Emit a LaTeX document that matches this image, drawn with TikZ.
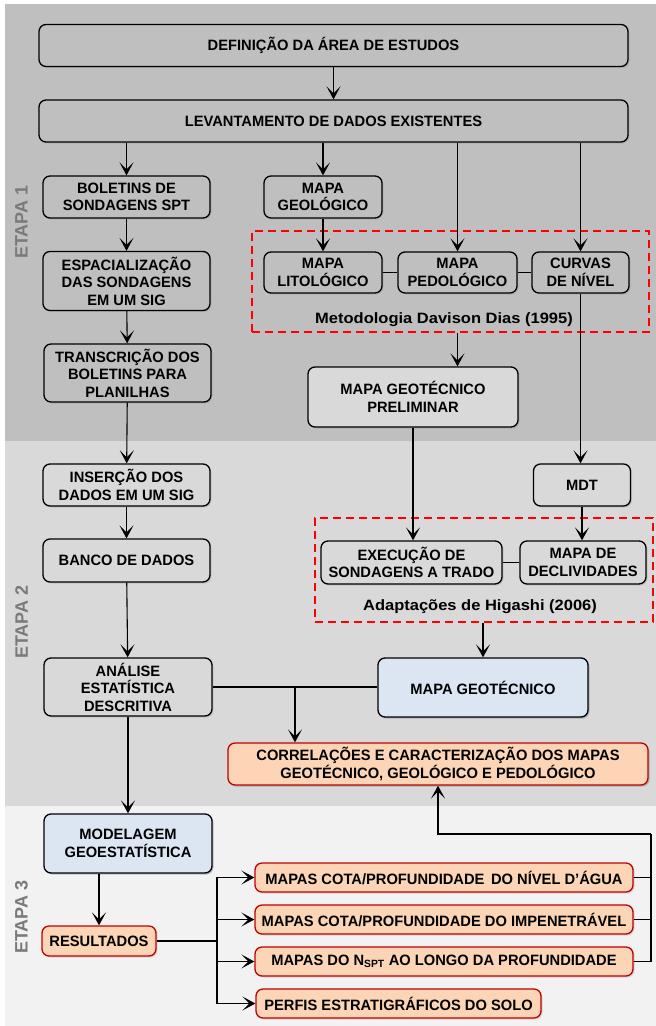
\documentclass[tikz,border=0pt]{standalone}
\usepackage{fontspec}
\setmainfont{Liberation Sans}
\newfontfamily\boxfont[FakeStretch=0.98]{Liberation Sans}
\newfontfamily\notefont[FakeStretch=1.1]{Liberation Sans}
\usetikzlibrary{arrows.meta,shadows,calc}

\definecolor{bandA}{HTML}{BFBFBF}
\definecolor{bandB}{HTML}{D9D9D9}
\definecolor{bandC}{HTML}{F2F2F2}
\definecolor{boxblue}{HTML}{DCE6F2}
\definecolor{boxpeach}{HTML}{FBD5B5}
\definecolor{boxred}{HTML}{C00000}
\definecolor{dashred}{HTML}{FF0000}
\definecolor{etapagray}{HTML}{7A7A7A}

\tikzset{
  box/.style={draw=black, line width=1.3pt, rounded corners=7pt, align=center,
    inner sep=2pt, drop shadow={shadow xshift=1.5pt, shadow yshift=-1.5pt, opacity=0.25}},
  boxA/.style={box, fill=bandA},
  boxB/.style={box, fill=bandB},
  bluebox/.style={box, fill=boxblue},
  peachbox/.style={box, draw=boxred, fill=boxpeach},
  dashbox/.style={draw=dashred, line width=2.2pt, dash pattern=on 8pt off 5pt},
  note/.style={font=\notefont\bfseries\fontsize{15}{17}\selectfont},
  etapa/.style={rotate=90, text=etapagray, font=\bfseries\fontsize{18}{20}\selectfont}
}

\begin{document}
\begin{tikzpicture}[x=1pt, y=-1pt, line width=1.1pt,
    >={Stealth[length=13pt, width=14pt, inset=7pt]},
    font=\boxfont\bfseries\fontsize{15}{17.5}\selectfont]
  \useasboundingbox (0,0) rectangle (656,1026);

  % stage bands
  \fill[bandA] (5,4) rectangle (656,441);
  \fill[bandB] (5,441) rectangle (656,806);
  \fill[bandC] (5,806) rectangle (656,1026);
  \node[etapa] (e1) at (21.5,222) {ETAPA 1};
  \node[etapa] (e2) at (21.5,622) {ETAPA 2};
  \node[etapa] (e3) at (21.5,917) {ETAPA 3};

  % dashed groups
  \node[dashbox, minimum width=397pt, minimum height=101pt] (grp1) at (450.5,281.5) {};
  \node[note] (meto) at (444,320) {Metodologia Davison Dias (1995)};
  \node[dashbox, minimum width=338pt, minimum height=104pt] (grp2) at (484,570) {};
  \node[note] (higa) at (480,607) {Adaptações de Higashi (2006)};

  % etapa 1
  \begin{scope}[every node/.style={boxA}]
    \node[minimum width=589pt, minimum height=42pt] (def) at (333.5,45.5) {DEFINIÇÃO DA ÁREA DE ESTUDOS};
    \node[minimum width=589pt, minimum height=42pt] (lev) at (333.5,121) {LEVANTAMENTO DE DADOS EXISTENTES};
    \node[minimum width=167pt, minimum height=42pt] (bol) at (126.5,197) {BOLETINS DE\\SONDAGENS SPT};
    \node[minimum width=118pt, minimum height=42pt] (geo) at (323,197) {MAPA\\GEOLÓGICO};
    \node[minimum width=167pt, minimum height=59pt] (esp) at (126.5,281) {ESPACIALIZAÇÃO\\DAS SONDAGENS\\EM UM SIG};
    \node[minimum width=118pt, minimum height=41pt] (lito) at (323,272.5) {MAPA\\LITOLÓGICO};
    \node[minimum width=119pt, minimum height=41pt] (pedo) at (457.5,272.5) {MAPA\\PEDOLÓGICO};
    \node[minimum width=97pt, minimum height=41pt] (curv) at (580.5,272.5) {CURVAS\\DE NÍVEL};
    \node[minimum width=167pt, minimum height=58pt] (trans) at (127.5,373) {TRANSCRIÇÃO DOS\\BOLETINS PARA\\PLANILHAS};
    \node[fill=bandB, minimum width=210pt, minimum height=60pt] (prel) at (413,397) {MAPA GEOTÉCNICO\\PRELIMINAR};
  \end{scope}

  % etapa 2
  \begin{scope}[every node/.style={boxB}]
    \node[minimum width=167pt, minimum height=42pt] (ins) at (126.5,485) {INSERÇÃO DOS\\DADOS EM UM SIG};
    \node[minimum width=97pt, minimum height=42pt] (mdt) at (582,485) {MDT};
    \node[minimum width=167pt, minimum height=43pt] (banco) at (126.5,560.5) {BANCO DE DADOS};
    \node[minimum width=181pt, minimum height=43pt] (exec) at (411.5,562.5) {EXECUÇÃO DE\\SONDAGENS A TRADO};
    \node[minimum width=126pt, minimum height=43pt] (decl) at (583,562.5) {MAPA DE\\DECLIVIDADES};
    \node[minimum width=168pt, minimum height=58pt] (anal) at (128,687) {ANÁLISE\\ESTATÍSTICA\\DESCRITIVA};
    \node[bluebox, minimum width=210pt, minimum height=59pt] (mgeo) at (483,687.5) {MAPA GEOTÉCNICO};
    \node[peachbox, minimum width=420pt, minimum height=42pt] (corr) at (438,764) {CORRELAÇÕES E CARACTERIZAÇÃO DOS MAPAS\\GEOTÉCNICO, GEOLÓGICO E PEDOLÓGICO};
  \end{scope}

  % etapa 3
  \begin{scope}[every node/.style={peachbox, minimum height=29pt}]
    \node[bluebox, minimum width=168pt, minimum height=59pt] (mod) at (128,843.5) {MODELAGEM\\GEOESTATÍSTICA};
    \node[minimum width=114pt, minimum height=30pt] (res) at (99,941) {RESULTADOS};
    \node[minimum width=378pt] (nivel) at (444,877.5) {MAPAS COTA/PROFUNDIDADE\, DO NÍVEL D’ÁGUA};
    \node[minimum width=378pt] (imp) at (444,919.5) {MAPAS COTA/PROFUNDIDADE DO IMPENETRÁVEL};
    \node[minimum width=378pt] (nspt) at (444,961.5) {MAPAS DO N\textsubscript{SPT} AO LONGO DA PROFUNDIDADE};
    \node[minimum width=285pt] (perf) at (398.5,1003.5) {PERFIS ESTRATIGRÁFICOS DO SOLO};
  \end{scope}

  \coordinate (j1) at (295,687);
  \coordinate (br) at (217,941);
  \coordinate (fb) at (651,834);

  % connectors
  \begin{scope}
    \draw[->] (def) -- (lev);
    \draw[->] (bol.north |- lev.south) -- (bol);
    \draw[->] (geo.north |- lev.south) -- (geo);
    \draw[->] (pedo.north |- lev.south) -- (pedo);
    \draw[->] (curv.north |- lev.south) -- (curv);
    \draw[->] (geo) -- (lito);
    \draw (lito) -- (pedo) -- (curv);
    \draw[->] (bol) -- (esp);
    \draw[->] (esp) -- (trans);
    \draw[->] (trans) -- (ins);
    \draw[->] (ins) -- (banco);
    \draw[->] (banco) -- (anal);
    \draw[->] (anal) -- (mod);
    \draw[->] (pedo.south |- grp1.south) -- (pedo.south |- prel.north);
    \draw[->] (curv.south) -- (curv.south |- mdt.north);
    \draw[->] (prel.south) -- (prel.south |- exec.north);
    \draw[->] (mdt.south) -- (mdt.south |- decl.north);
    \draw (exec) -- (decl);
    \draw[->] (mgeo.north |- grp2.south) -- (mgeo);
    \draw (anal.east) -- (j1) -- (j1 -| mgeo.west);
    \draw[->] (j1) -- (j1 |- corr.north);
    \draw[->] (mod.south -| res.north) -- (res);
    \draw (res) -- (br);
    \draw[->] (br) |- (nivel);
    \draw[->] (br) |- (imp);
    \draw[->] (br) |- (nspt);
    \draw[->] (br) |- (perf);
    \draw (nivel) -| (fb);
    \draw (imp) -| (fb);
    \draw (nspt) -| (fb);
    \draw[->] (fb) -| (corr.south);
  \end{scope}
\end{tikzpicture}
\end{document}
